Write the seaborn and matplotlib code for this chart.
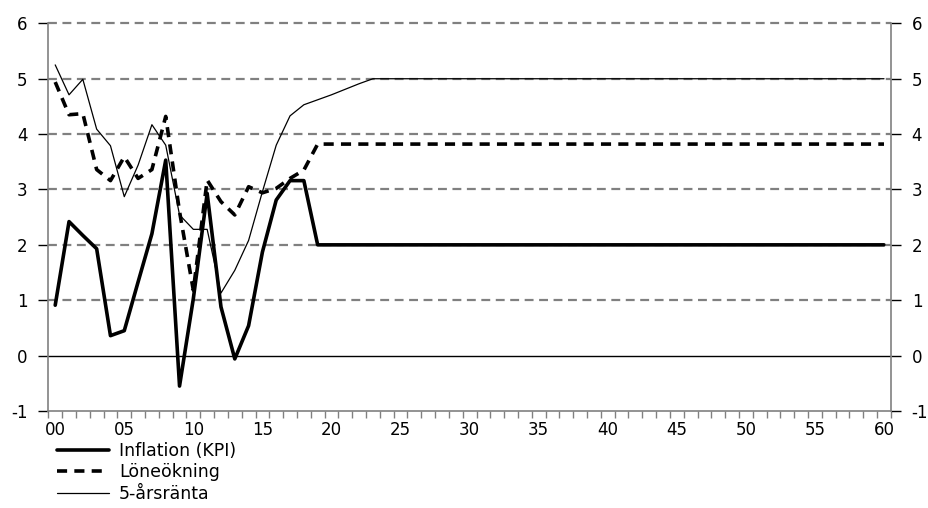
import numpy as np
import pandas as pd
import matplotlib
matplotlib.use("Agg")
import matplotlib.pyplot as plt
from matplotlib.ticker import FixedLocator, FuncFormatter
import seaborn as sns

sns.set_theme(style="white")
plt.rcParams["font.family"] = ["DejaVu Sans"]
plt.rcParams["text.color"] = "black"

# Years 2000-2060, shown as two-digit labels
years = list(range(0, 61))

inflation_hist = [0.91, 2.42, 2.17, 1.93, 0.36, 0.45, 1.33, 2.20, 3.53, -0.55,
                  1.03, 2.93, 0.88, -0.06, 0.54, 1.87, 2.81, 3.16, 3.16, 2.00]
wage_hist = [4.94, 4.35, 4.37, 3.36, 3.16, 3.59, 3.20, 3.36, 4.32, 2.60,
             1.18, 3.17, 2.78, 2.54, 3.05, 2.94, 3.02, 3.20, 3.35, 3.82]
rate_hist = [5.25, 4.71, 4.99, 4.09, 3.79, 2.87, 3.44, 4.17, 3.80, 2.54,
             2.28, 2.28, 1.13, 1.54, 2.08, 2.96, 3.80, 4.33, 4.53, 4.62,
             4.71, 4.81, 4.91, 5.00]

inflation_long = 2.0
wage_long = 3.82
rate_long = 5.0

inflation = inflation_hist + [inflation_long] * (len(years) - len(inflation_hist))
wage = wage_hist + [wage_long] * (len(years) - len(wage_hist))
rate = rate_hist + [rate_long] * (len(years) - len(rate_hist))

labels = ["Inflation (KPI)", "Löneökning", "5-årsränta"]

df = pd.DataFrame({"year": years, labels[0]: inflation,
                   labels[1]: wage, labels[2]: rate})

fig = plt.figure(figsize=(9.29, 5.08), dpi=100)
ax = fig.add_axes([0.052, 0.191, 0.907, 0.763])

grey = "#808080"

# Horizontal grid: dashed grey lines, solid zero line
for yv in range(1, 7):
    ax.axhline(yv, color=grey, linewidth=1.6, linestyle=(0, (4, 2.5)),
               zorder=1, clip_on=False)
ax.axhline(0, color="black", linewidth=1.0, zorder=1)

sns.lineplot(data=df, x="year", y=labels[0], ax=ax, color="black",
             linewidth=2.6, label=labels[0], zorder=3)
sns.lineplot(data=df, x="year", y=labels[1], ax=ax, color="black",
             linewidth=2.6, linestyle=(0, (2.8, 2.0)), label=labels[1], zorder=3)
sns.lineplot(data=df, x="year", y=labels[2], ax=ax, color="black",
             linewidth=0.9, label=labels[2], zorder=3)

ax.set_xlim(-0.5, 60.5)
ax.set_ylim(-1, 6)
ax.set_xlabel("")
ax.set_ylabel("")

# X axis: labels at every fifth year, tick marks between years
ax.xaxis.set_major_locator(FixedLocator(list(range(0, 61, 5))))
ax.xaxis.set_major_formatter(FuncFormatter(lambda v, p: f"{int(v):02d}"))
ax.xaxis.set_minor_locator(FixedLocator([y - 0.5 for y in range(0, 62)]))
ax.tick_params(axis="x", which="major", length=0, pad=7, labelsize=12,
               labelcolor="black")
ax.tick_params(axis="x", which="minor", length=5, width=1, color=grey,
               direction="out", bottom=True)

# Y axis on both sides
ax.set_yticks(list(range(-1, 7)))
ax.yaxis.set_major_formatter(FuncFormatter(lambda v, p: f"{int(v)}"))
ax.tick_params(axis="y", which="major", length=7, width=1, color="black",
               direction="out", left=True, right=True,
               labelleft=True, labelright=True, pad=8, labelsize=12,
               labelcolor="black")

for side in ["left", "right", "bottom"]:
    ax.spines[side].set_color(grey)
    ax.spines[side].set_linewidth(1.2)
ax.spines["top"].set_visible(False)

ax.get_legend().remove()
handles, labs = ax.get_legend_handles_labels()
fig.legend(handles, labs, loc="upper left", bbox_to_anchor=(0.0617, 0.130),
           frameon=False, fontsize=12.5, handlelength=3.0, handletextpad=0.55,
           labelspacing=0.2, borderaxespad=0, borderpad=0)

fig.savefig("out.png", dpi=100)
